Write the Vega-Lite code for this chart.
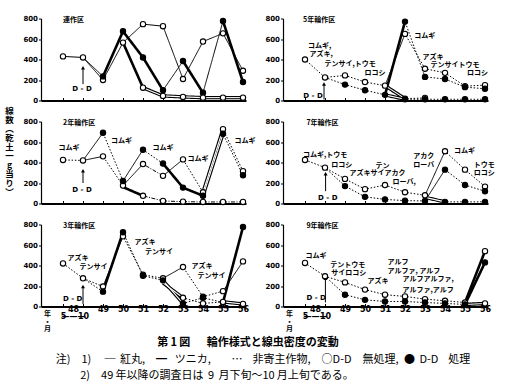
{
"$schema": "https://vega.github.io/schema/vega-lite/v6.json",
"background": "white",
"padding": {"left": 4, "top": 14.5, "right": 5, "bottom": 5},
"datasets": {
"pts": [
{"p":"A","s":"A1","f":0,"i":0,"v":430,"ls":"n"},{"p":"A","s":"A1","f":0,"i":1,"v":420,"ls":"t"},{"p":"A","s":"A1","f":0,"i":2,"v":200,"ls":"t"},{"p":"A","s":"A1","f":0,"i":3,"v":565,"ls":"t"},{"p":"A","s":"A1","f":0,"i":4,"v":745,"ls":"t"},{"p":"A","s":"A1","f":0,"i":5,"v":725,"ls":"t"},{"p":"A","s":"A1","f":0,"i":6,"v":210,"ls":"t"},{"p":"A","s":"A1","f":0,"i":7,"v":575,"ls":"t"},{"p":"A","s":"A1","f":0,"i":8,"v":655,"ls":"t"},{"p":"A","s":"A1","f":0,"i":9,"v":290,"ls":"t"},
{"p":"A","s":"A2","f":1,"i":1,"v":420,"ls":"n"},{"p":"A","s":"A2","f":1,"i":2,"v":235,"ls":"t"},{"p":"A","s":"A2","f":1,"i":3,"v":675,"ls":"b"},{"p":"A","s":"A2","f":1,"i":4,"v":420,"ls":"b"},{"p":"A","s":"A2","f":1,"i":5,"v":100,"ls":"b"},{"p":"A","s":"A2","f":1,"i":6,"v":385,"ls":"t"},{"p":"A","s":"A2","f":1,"i":7,"v":75,"ls":"b"},{"p":"A","s":"A2","f":1,"i":8,"v":775,"ls":"t"},{"p":"A","s":"A2","f":1,"i":9,"v":180,"ls":"b"},
{"p":"A","s":"A3","f":0,"i":3,"v":565,"ls":"n"},{"p":"A","s":"A3","f":0,"i":4,"v":125,"ls":"b"},{"p":"A","s":"A3","f":0,"i":5,"v":45,"ls":"w"},{"p":"A","s":"A3","f":0,"i":6,"v":35,"ls":"w"},{"p":"A","s":"A3","f":0,"i":7,"v":28,"ls":"w"},{"p":"A","s":"A3","f":0,"i":8,"v":28,"ls":"w"},{"p":"A","s":"A3","f":0,"i":9,"v":28,"ls":"w"},
{"p":"B","s":"B1","f":0,"i":0,"v":400,"ls":"n"},{"p":"B","s":"B1","f":0,"i":1,"v":225,"ls":"d"},{"p":"B","s":"B1","f":0,"i":2,"v":245,"ls":"d"},{"p":"B","s":"B1","f":0,"i":3,"v":180,"ls":"d"},{"p":"B","s":"B1","f":0,"i":4,"v":145,"ls":"d"},{"p":"B","s":"B1","f":0,"i":5,"v":650,"ls":"t"},{"p":"B","s":"B1","f":0,"i":6,"v":310,"ls":"d"},{"p":"B","s":"B1","f":0,"i":7,"v":270,"ls":"d"},{"p":"B","s":"B1","f":0,"i":8,"v":140,"ls":"d"},{"p":"B","s":"B1","f":0,"i":9,"v":150,"ls":"d"},
{"p":"B","s":"B2","f":1,"i":1,"v":225,"ls":"n"},{"p":"B","s":"B2","f":1,"i":2,"v":155,"ls":"d"},{"p":"B","s":"B2","f":1,"i":3,"v":100,"ls":"d"},{"p":"B","s":"B2","f":1,"i":4,"v":55,"ls":"d"},{"p":"B","s":"B2","f":1,"i":5,"v":770,"ls":"b"},{"p":"B","s":"B2","f":1,"i":6,"v":230,"ls":"d"},{"p":"B","s":"B2","f":1,"i":7,"v":210,"ls":"d"},{"p":"B","s":"B2","f":1,"i":8,"v":130,"ls":"d"},{"p":"B","s":"B2","f":1,"i":9,"v":115,"ls":"d"},
{"p":"B","s":"B3","f":0,"i":4,"v":145,"ls":"n"},{"p":"B","s":"B3","f":0,"i":5,"v":18,"ls":"w"},{"p":"B","s":"B3","f":0,"i":6,"v":25,"ls":"d"},
{"p":"B","s":"B4","f":1,"i":4,"v":55,"ls":"n"},{"p":"B","s":"B4","f":1,"i":5,"v":12,"ls":"w"},{"p":"B","s":"B4","f":1,"i":6,"v":12,"ls":"d"},{"p":"B","s":"B4","f":1,"i":7,"v":12,"ls":"d"},{"p":"B","s":"B4","f":1,"i":8,"v":12,"ls":"d"},{"p":"B","s":"B4","f":1,"i":9,"v":12,"ls":"d"},
{"p":"C","s":"C1","f":0,"i":0,"v":425,"ls":"n"},{"p":"C","s":"C1","f":0,"i":1,"v":420,"ls":"d"},{"p":"C","s":"C1","f":0,"i":2,"v":460,"ls":"t"},{"p":"C","s":"C1","f":0,"i":3,"v":175,"ls":"d"},{"p":"C","s":"C1","f":0,"i":4,"v":385,"ls":"t"},{"p":"C","s":"C1","f":0,"i":5,"v":270,"ls":"x"},{"p":"C","s":"C1","f":0,"i":6,"v":430,"ls":"t"},{"p":"C","s":"C1","f":0,"i":7,"v":110,"ls":"d"},{"p":"C","s":"C1","f":0,"i":8,"v":725,"ls":"w"},{"p":"C","s":"C1","f":0,"i":9,"v":315,"ls":"d"},
{"p":"C","s":"C2","f":1,"i":1,"v":420,"ls":"n"},{"p":"C","s":"C2","f":1,"i":2,"v":690,"ls":"t"},{"p":"C","s":"C2","f":1,"i":3,"v":220,"ls":"d"},{"p":"C","s":"C2","f":1,"i":4,"v":525,"ls":"t"},{"p":"C","s":"C2","f":1,"i":5,"v":390,"ls":"d"},{"p":"C","s":"C2","f":1,"i":6,"v":155,"ls":"b"},{"p":"C","s":"C2","f":1,"i":7,"v":75,"ls":"b"},{"p":"C","s":"C2","f":1,"i":8,"v":680,"ls":"w"},{"p":"C","s":"C2","f":1,"i":9,"v":275,"ls":"d"},
{"p":"C","s":"C3","f":0,"i":3,"v":160,"ls":"n"},{"p":"C","s":"C3","f":0,"i":4,"v":75,"ls":"b"},{"p":"C","s":"C3","f":0,"i":5,"v":25,"ls":"x"},{"p":"C","s":"C3","f":0,"i":6,"v":18,"ls":"x"},{"p":"C","s":"C3","f":0,"i":7,"v":15,"ls":"x"},{"p":"C","s":"C3","f":0,"i":8,"v":15,"ls":"x"},{"p":"C","s":"C3","f":0,"i":9,"v":15,"ls":"x"},
{"p":"D","s":"D1","f":0,"i":0,"v":425,"ls":"n"},{"p":"D","s":"D1","f":0,"i":1,"v":350,"ls":"d"},{"p":"D","s":"D1","f":0,"i":2,"v":240,"ls":"d"},{"p":"D","s":"D1","f":0,"i":3,"v":140,"ls":"d"},{"p":"D","s":"D1","f":0,"i":4,"v":180,"ls":"d"},{"p":"D","s":"D1","f":0,"i":5,"v":110,"ls":"d"},{"p":"D","s":"D1","f":0,"i":6,"v":80,"ls":"d"},{"p":"D","s":"D1","f":0,"i":7,"v":510,"ls":"t"},{"p":"D","s":"D1","f":0,"i":8,"v":330,"ls":"d"},{"p":"D","s":"D1","f":0,"i":9,"v":165,"ls":"d"},
{"p":"D","s":"D2","f":1,"i":1,"v":350,"ls":"n"},{"p":"D","s":"D2","f":1,"i":2,"v":170,"ls":"d"},{"p":"D","s":"D2","f":1,"i":3,"v":65,"ls":"d"},{"p":"D","s":"D2","f":1,"i":4,"v":40,"ls":"d"},{"p":"D","s":"D2","f":1,"i":5,"v":28,"ls":"d"},{"p":"D","s":"D2","f":1,"i":6,"v":25,"ls":"d"},{"p":"D","s":"D2","f":1,"i":7,"v":330,"ls":"t"},{"p":"D","s":"D2","f":1,"i":8,"v":180,"ls":"d"},{"p":"D","s":"D2","f":1,"i":9,"v":120,"ls":"d"},
{"p":"D","s":"D3","f":1,"i":6,"v":60,"ls":"n"},{"p":"D","s":"D3","f":1,"i":7,"v":16,"ls":"w"},{"p":"D","s":"D3","f":1,"i":8,"v":16,"ls":"d"},{"p":"D","s":"D3","f":1,"i":9,"v":16,"ls":"d"},
{"p":"E","s":"E1","f":0,"i":0,"v":420,"ls":"n"},{"p":"E","s":"E1","f":0,"i":1,"v":275,"ls":"d"},{"p":"E","s":"E1","f":0,"i":2,"v":195,"ls":"d"},{"p":"E","s":"E1","f":0,"i":3,"v":685,"ls":"t"},{"p":"E","s":"E1","f":0,"i":4,"v":310,"ls":"d"},{"p":"E","s":"E1","f":0,"i":5,"v":275,"ls":"d"},{"p":"E","s":"E1","f":0,"i":6,"v":385,"ls":"t"},{"p":"E","s":"E1","f":0,"i":7,"v":95,"ls":"d"},{"p":"E","s":"E1","f":0,"i":8,"v":150,"ls":"d"},{"p":"E","s":"E1","f":0,"i":9,"v":440,"ls":"t"},
{"p":"E","s":"E2","f":1,"i":1,"v":275,"ls":"n"},{"p":"E","s":"E2","f":1,"i":2,"v":145,"ls":"d"},{"p":"E","s":"E2","f":1,"i":3,"v":725,"ls":"b"},{"p":"E","s":"E2","f":1,"i":4,"v":300,"ls":"d"},{"p":"E","s":"E2","f":1,"i":5,"v":255,"ls":"d"},{"p":"E","s":"E2","f":1,"i":6,"v":30,"ls":"w"},{"p":"E","s":"E2","f":1,"i":7,"v":85,"ls":"d"},{"p":"E","s":"E2","f":1,"i":8,"v":40,"ls":"d"},{"p":"E","s":"E2","f":1,"i":9,"v":775,"ls":"b"},
{"p":"E","s":"E3","f":0,"i":5,"v":230,"ls":"n"},{"p":"E","s":"E3","f":0,"i":6,"v":85,"ls":"w"},{"p":"E","s":"E3","f":0,"i":7,"v":30,"ls":"d"},{"p":"E","s":"E3","f":0,"i":8,"v":45,"ls":"d"},{"p":"E","s":"E3","f":0,"i":9,"v":25,"ls":"w"},
{"p":"F","s":"F1","f":0,"i":0,"v":425,"ls":"n"},{"p":"F","s":"F1","f":0,"i":1,"v":295,"ls":"d"},{"p":"F","s":"F1","f":0,"i":2,"v":235,"ls":"d"},{"p":"F","s":"F1","f":0,"i":3,"v":165,"ls":"d"},{"p":"F","s":"F1","f":0,"i":4,"v":115,"ls":"d"},{"p":"F","s":"F1","f":0,"i":5,"v":98,"ls":"d"},{"p":"F","s":"F1","f":0,"i":6,"v":72,"ls":"d"},{"p":"F","s":"F1","f":0,"i":7,"v":56,"ls":"d"},{"p":"F","s":"F1","f":0,"i":8,"v":39,"ls":"d"},{"p":"F","s":"F1","f":0,"i":9,"v":540,"ls":"b"},
{"p":"F","s":"F2","f":1,"i":1,"v":295,"ls":"n"},{"p":"F","s":"F2","f":1,"i":2,"v":115,"ls":"d"},{"p":"F","s":"F2","f":1,"i":3,"v":65,"ls":"d"},{"p":"F","s":"F2","f":1,"i":4,"v":49,"ls":"d"},{"p":"F","s":"F2","f":1,"i":5,"v":49,"ls":"d"},{"p":"F","s":"F2","f":1,"i":6,"v":39,"ls":"d"},{"p":"F","s":"F2","f":1,"i":7,"v":30,"ls":"d"},{"p":"F","s":"F2","f":1,"i":8,"v":20,"ls":"d"},{"p":"F","s":"F2","f":1,"i":9,"v":430,"ls":"b"},
{"p":"F","s":"F3","f":0,"i":8,"v":20,"ls":"n"},{"p":"F","s":"F3","f":0,"i":9,"v":30,"ls":"w"}
],
"arr": [
{"p":"A","i":1,"v":320,"lo":160},{"p":"B","i":0.95,"v":160,"lo":10},{"p":"C","i":1,"v":320,"lo":200},{"p":"D","i":1.03,"v":290,"lo":120},{"p":"E","i":1,"v":195,"lo":25},{"p":"F","i":1.02,"v":275,"lo":40}
],
"ann": [
{"p":"A","k":"ttl","i":0,"v":790,"t":"連作区"},{"p":"A","k":"dd","i":0.95,"v":110,"t":"D - D"},
{"p":"B","k":"ttl","i":-0.1,"v":790,"t":"5年輪作区"},{"p":"B","k":"lab","i":0.15,"v":530,"t":"コムギ,"},{"p":"B","k":"lab","i":0.23,"v":450,"t":"アズキ,"},{"p":"B","k":"lab","i":0.98,"v":355,"t":"テンサイ,トウモ"},{"p":"B","k":"lab","i":2.97,"v":267,"t":"ロコシ"},{"p":"B","k":"lab","i":5.46,"v":625,"t":"コムギ"},{"p":"B","k":"lab","i":5.87,"v":425,"t":"アズキ"},{"p":"B","k":"lab","i":6.28,"v":346,"t":"テンサイトウモ"},{"p":"B","k":"lab","i":8.1,"v":267,"t":"ロコシ"},{"p":"B","k":"dd","i":0.4,"v":45,"t":"D - D"},
{"p":"C","k":"ttl","i":0,"v":790,"t":"2年輪作区"},{"p":"C","k":"lab","i":-0.23,"v":537,"t":"コムギ"},{"p":"C","k":"lab","i":2.4,"v":605,"t":"コムギ"},{"p":"C","k":"lab","i":4.48,"v":537,"t":"コムギ"},{"p":"C","k":"lab","i":6.23,"v":430,"t":"コムギ"},{"p":"C","k":"lab","i":8.57,"v":605,"t":"コムギ"},{"p":"C","k":"dd","i":0.95,"v":127,"t":"D - D"},
{"p":"D","k":"ttl","i":0.07,"v":790,"t":"7年輪作区"},{"p":"D","k":"lab","i":-0.1,"v":478,"t":"コムギ,トウモ"},{"p":"D","k":"lab","i":1.31,"v":379,"t":"ロコシ"},{"p":"D","k":"lab","i":2.22,"v":296,"t":"アズキサイアカク"},{"p":"D","k":"lab","i":3.52,"v":362,"t":"テン"},{"p":"D","k":"lab","i":4.38,"v":208,"t":"ローバ,"},{"p":"D","k":"lab","i":5.41,"v":461,"t":"アカク"},{"p":"D","k":"lab","i":5.41,"v":379,"t":"ローバ"},{"p":"D","k":"lab","i":7.45,"v":510,"t":"コムギ"},{"p":"D","k":"lab","i":8.44,"v":379,"t":"トウモ"},{"p":"D","k":"lab","i":8.44,"v":296,"t":"ロコシ"},{"p":"D","k":"dd","i":1.14,"v":50,"t":"D - D"},
{"p":"E","k":"ttl","i":0,"v":790,"t":"3年輪作区"},{"p":"E","k":"lab","i":0.23,"v":470,"t":"アズキ"},{"p":"E","k":"lab","i":0.82,"v":382,"t":"テンサイ"},{"p":"E","k":"lab","i":3.57,"v":627,"t":"アズキ"},{"p":"E","k":"lab","i":4.1,"v":529,"t":"テンサイ"},{"p":"E","k":"lab","i":6.43,"v":398,"t":"アズキ"},{"p":"E","k":"lab","i":6.73,"v":300,"t":"テンサイ"},{"p":"E","k":"dd","i":0.48,"v":72,"t":"D - D"},
{"p":"F","k":"ttl","i":0.07,"v":790,"t":"9年輪作区"},{"p":"F","k":"lab","i":0.03,"v":490,"t":"コムギ"},{"p":"F","k":"lab","i":1.26,"v":408,"t":"テントウモ"},{"p":"F","k":"lab","i":1.31,"v":327,"t":"サイロコシ"},{"p":"F","k":"lab","i":3.13,"v":245,"t":"アズキ"},{"p":"F","k":"lab","i":4.13,"v":431,"t":"アルフ"},{"p":"F","k":"lab","i":4.13,"v":349,"t":"アルファ, アルフ"},{"p":"F","k":"lab","i":4.88,"v":268,"t":"アルフアルファ,"},{"p":"F","k":"lab","i":4.88,"v":163,"t":"アルファ,アルフ"},{"p":"F","k":"dd","i":0.56,"v":82,"t":"D - D"}
]
},
"title": {
"text": "⠀\u3000\u3000\u3000\u3000\u3000\u3000\u3000\u3000\u2002第\u20091\u2009図\u3000\u2002輪作様式と線虫密度の変動",
"subtitle": ["注)\u30001)\u3000\u2009─\u2009\u2009紅丸,\u3000━\u2002\u2009ツニカ,\u3000\u2002\u2009\u2009…\u2002\u2009\u2009非寄主作物,\u3000○D-D\u3000無処理,\u2002●\u2009\u2009D-D\u2002\u2009\u2009処理", "⠀\u3000\u20022)\u300049\u2009年以降の調査日は\u2009\u20099\u2009\u2009月下旬〜10\u2009月上旬である。"],
"orient": "bottom", "anchor": "start", "dx": 51, "offset": 5,
"font": "Noto Sans CJK JP", "fontSize": 11, "fontWeight": "bold", "color": "black",
"subtitleFont": "Noto Sans CJK JP", "subtitleFontSize": 11, "subtitleColor": "black", "subtitlePadding": 6, "subtitleLineHeight": 16
},
"columns": 2,
"spacing": {"row": 21, "column": 37},
"bounds": "flush",
"concat": [
{"width": 205, "height": 82,
"encoding": {"x": {"field": "i", "type": "quantitative", "scale": {"domain": [-1.1, 9.15], "nice": false, "zero": false}, "axis": {"values": [0,1,2,3,4,5,6,7,8,9], "labels": false, "title": null, "tickSize": -3, "domainWidth": 1.8}},
"y": {"field": "v", "type": "quantitative", "scale": {"domain": [0, 800], "nice": false}, "axis": {"values": [0,200,400,600,800], "title": null, "tickSize": 2.5, "labelPadding": 1, "domainWidth": 1.2}}},
"layer": [
{"data":{"name":"pts"},"transform":[{"filter":"datum.p=='A'"},{"window":[{"op":"lag","field":"i","as":"pi"},{"op":"lag","field":"v","as":"pv"}],"groupby":["s"],"sort":[{"field":"i","order":"ascending"}]},{"filter":"datum.ls!='n'"}],"mark":{"type":"rule","color":"black"},"encoding":{"x2":{"field":"pi"},"y2":{"field":"pv"},"strokeWidth":{"condition":[{"test":"datum.ls=='b'","value":2.6},{"test":"datum.ls=='w'","value":3.4}],"value":1},"strokeDash":{"condition":[{"test":"datum.ls=='d'","value":[1.5,1.8]},{"test":"datum.ls=='x'","value":[4,1.5,1,1.5]}],"value":[1,0]}}},
{"data":{"name":"pts"},"transform":[{"filter":"datum.p=='A'"},{"window":[{"op":"lag","field":"i","as":"pi"},{"op":"lag","field":"v","as":"pv"}],"groupby":["s"],"sort":[{"field":"i","order":"ascending"}]},{"filter":"datum.ls=='w'"}],"mark":{"type":"rule","color":"white","strokeWidth":1.1},"encoding":{"x2":{"field":"pi"},"y2":{"field":"pv"}}},
{"data":{"name":"arr"},"transform":[{"filter":"datum.p=='A'"}],"mark":{"type":"rule","color":"black","strokeWidth":1},"encoding":{"y2":{"field":"lo"}}},
{"data":{"name":"arr"},"transform":[{"filter":"datum.p=='A'"}],"mark":{"type":"point","shape":"triangle-up","filled":true,"color":"black","opacity":1,"size":16}},
{"data":{"name":"pts"},"transform":[{"filter":"datum.p=='A' && (datum.ls!='n' || datum.i==0)"}],"mark":{"type":"point","filled":true,"stroke":"black","strokeWidth":1.1,"size":28,"opacity":1},"encoding":{"fill":{"field":"f","type":"nominal","scale":{"domain":[0,1],"range":["white","black"]},"legend":null}}},
{"data":{"name":"ann"},"transform":[{"filter":"datum.p=='A' && datum.k!='dd'"}],"mark":{"type":"text","align":"left","baseline":"middle","font":"Noto Sans CJK JP","fontSize":7,"fontWeight":"bold","color":"black"},"encoding":{"text":{"field":"t"}}},
{"data":{"name":"ann"},"transform":[{"filter":"datum.p=='A' && datum.k=='dd'"}],"mark":{"type":"text","align":"center","baseline":"middle","font":"DejaVu Sans","fontSize":7,"fontWeight":"bold","color":"black"},"encoding":{"text":{"field":"t"}}}
]},
{"width": 205, "height": 82,
"encoding": {"x": {"field": "i", "type": "quantitative", "scale": {"domain": [-1.1, 9.15], "nice": false, "zero": false}, "axis": {"values": [0,1,2,3,4,5,6,7,8,9], "labels": false, "title": null, "tickSize": -3, "domainWidth": 1.8}},
"y": {"field": "v", "type": "quantitative", "scale": {"domain": [0, 800], "nice": false}, "axis": {"values": [0,200,400,600,800], "title": null, "tickSize": 2.5, "labelPadding": 1, "domainWidth": 1.2}}},
"layer": [
{"data":{"name":"pts"},"transform":[{"filter":"datum.p=='B'"},{"window":[{"op":"lag","field":"i","as":"pi"},{"op":"lag","field":"v","as":"pv"}],"groupby":["s"],"sort":[{"field":"i","order":"ascending"}]},{"filter":"datum.ls!='n'"}],"mark":{"type":"rule","color":"black"},"encoding":{"x2":{"field":"pi"},"y2":{"field":"pv"},"strokeWidth":{"condition":[{"test":"datum.ls=='b'","value":2.6},{"test":"datum.ls=='w'","value":3.4}],"value":1},"strokeDash":{"condition":[{"test":"datum.ls=='d'","value":[1.5,1.8]},{"test":"datum.ls=='x'","value":[4,1.5,1,1.5]}],"value":[1,0]}}},
{"data":{"name":"pts"},"transform":[{"filter":"datum.p=='B'"},{"window":[{"op":"lag","field":"i","as":"pi"},{"op":"lag","field":"v","as":"pv"}],"groupby":["s"],"sort":[{"field":"i","order":"ascending"}]},{"filter":"datum.ls=='w'"}],"mark":{"type":"rule","color":"white","strokeWidth":1.1},"encoding":{"x2":{"field":"pi"},"y2":{"field":"pv"}}},
{"data":{"name":"arr"},"transform":[{"filter":"datum.p=='B'"}],"mark":{"type":"rule","color":"black","strokeWidth":1},"encoding":{"y2":{"field":"lo"}}},
{"data":{"name":"arr"},"transform":[{"filter":"datum.p=='B'"}],"mark":{"type":"point","shape":"triangle-up","filled":true,"color":"black","opacity":1,"size":16}},
{"data":{"name":"pts"},"transform":[{"filter":"datum.p=='B' && (datum.ls!='n' || datum.i==0)"}],"mark":{"type":"point","filled":true,"stroke":"black","strokeWidth":1.1,"size":28,"opacity":1},"encoding":{"fill":{"field":"f","type":"nominal","scale":{"domain":[0,1],"range":["white","black"]},"legend":null}}},
{"data":{"name":"ann"},"transform":[{"filter":"datum.p=='B' && datum.k!='dd'"}],"mark":{"type":"text","align":"left","baseline":"middle","font":"Noto Sans CJK JP","fontSize":7,"fontWeight":"bold","color":"black"},"encoding":{"text":{"field":"t"}}},
{"data":{"name":"ann"},"transform":[{"filter":"datum.p=='B' && datum.k=='dd'"}],"mark":{"type":"text","align":"center","baseline":"middle","font":"DejaVu Sans","fontSize":7,"fontWeight":"bold","color":"black"},"encoding":{"text":{"field":"t"}}}
]},
{"width": 205, "height": 82,
"encoding": {"x": {"field": "i", "type": "quantitative", "scale": {"domain": [-1.1, 9.15], "nice": false, "zero": false}, "axis": {"values": [0,1,2,3,4,5,6,7,8,9], "labels": false, "title": null, "tickSize": -3, "domainWidth": 1.8}},
"y": {"field": "v", "type": "quantitative", "scale": {"domain": [0, 800], "nice": false}, "axis": {"values": [0,200,400,600,800], "tickSize": 2.5, "labelPadding": 1, "domainWidth": 1.2, "title": ["線", " ", "数", "︵", "乾", "土", "一", "g", "当", "り", "︶"], "titleAngle": 0, "titleX": -32, "titleY": -15, "titleAlign": "center", "titleBaseline": "top", "titleFontSize": 8.5, "titleLineHeight": 9}}},
"layer": [
{"data":{"name":"pts"},"transform":[{"filter":"datum.p=='C'"},{"window":[{"op":"lag","field":"i","as":"pi"},{"op":"lag","field":"v","as":"pv"}],"groupby":["s"],"sort":[{"field":"i","order":"ascending"}]},{"filter":"datum.ls!='n'"}],"mark":{"type":"rule","color":"black"},"encoding":{"x2":{"field":"pi"},"y2":{"field":"pv"},"strokeWidth":{"condition":[{"test":"datum.ls=='b'","value":2.6},{"test":"datum.ls=='w'","value":3.4}],"value":1},"strokeDash":{"condition":[{"test":"datum.ls=='d'","value":[1.5,1.8]},{"test":"datum.ls=='x'","value":[4,1.5,1,1.5]}],"value":[1,0]}}},
{"data":{"name":"pts"},"transform":[{"filter":"datum.p=='C'"},{"window":[{"op":"lag","field":"i","as":"pi"},{"op":"lag","field":"v","as":"pv"}],"groupby":["s"],"sort":[{"field":"i","order":"ascending"}]},{"filter":"datum.ls=='w'"}],"mark":{"type":"rule","color":"white","strokeWidth":1.1},"encoding":{"x2":{"field":"pi"},"y2":{"field":"pv"}}},
{"data":{"name":"arr"},"transform":[{"filter":"datum.p=='C'"}],"mark":{"type":"rule","color":"black","strokeWidth":1},"encoding":{"y2":{"field":"lo"}}},
{"data":{"name":"arr"},"transform":[{"filter":"datum.p=='C'"}],"mark":{"type":"point","shape":"triangle-up","filled":true,"color":"black","opacity":1,"size":16}},
{"data":{"name":"pts"},"transform":[{"filter":"datum.p=='C' && (datum.ls!='n' || datum.i==0)"}],"mark":{"type":"point","filled":true,"stroke":"black","strokeWidth":1.1,"size":28,"opacity":1},"encoding":{"fill":{"field":"f","type":"nominal","scale":{"domain":[0,1],"range":["white","black"]},"legend":null}}},
{"data":{"name":"ann"},"transform":[{"filter":"datum.p=='C' && datum.k!='dd'"}],"mark":{"type":"text","align":"left","baseline":"middle","font":"Noto Sans CJK JP","fontSize":7,"fontWeight":"bold","color":"black"},"encoding":{"text":{"field":"t"}}},
{"data":{"name":"ann"},"transform":[{"filter":"datum.p=='C' && datum.k=='dd'"}],"mark":{"type":"text","align":"center","baseline":"middle","font":"DejaVu Sans","fontSize":7,"fontWeight":"bold","color":"black"},"encoding":{"text":{"field":"t"}}}
]},
{"width": 205, "height": 82,
"encoding": {"x": {"field": "i", "type": "quantitative", "scale": {"domain": [-1.1, 9.15], "nice": false, "zero": false}, "axis": {"values": [0,1,2,3,4,5,6,7,8,9], "labels": false, "title": null, "tickSize": -3, "domainWidth": 1.8}},
"y": {"field": "v", "type": "quantitative", "scale": {"domain": [0, 800], "nice": false}, "axis": {"values": [0,200,400,600,800], "title": null, "tickSize": 2.5, "labelPadding": 1, "domainWidth": 1.2}}},
"layer": [
{"data":{"name":"pts"},"transform":[{"filter":"datum.p=='D'"},{"window":[{"op":"lag","field":"i","as":"pi"},{"op":"lag","field":"v","as":"pv"}],"groupby":["s"],"sort":[{"field":"i","order":"ascending"}]},{"filter":"datum.ls!='n'"}],"mark":{"type":"rule","color":"black"},"encoding":{"x2":{"field":"pi"},"y2":{"field":"pv"},"strokeWidth":{"condition":[{"test":"datum.ls=='b'","value":2.6},{"test":"datum.ls=='w'","value":3.4}],"value":1},"strokeDash":{"condition":[{"test":"datum.ls=='d'","value":[1.5,1.8]},{"test":"datum.ls=='x'","value":[4,1.5,1,1.5]}],"value":[1,0]}}},
{"data":{"name":"pts"},"transform":[{"filter":"datum.p=='D'"},{"window":[{"op":"lag","field":"i","as":"pi"},{"op":"lag","field":"v","as":"pv"}],"groupby":["s"],"sort":[{"field":"i","order":"ascending"}]},{"filter":"datum.ls=='w'"}],"mark":{"type":"rule","color":"white","strokeWidth":1.1},"encoding":{"x2":{"field":"pi"},"y2":{"field":"pv"}}},
{"data":{"name":"arr"},"transform":[{"filter":"datum.p=='D'"}],"mark":{"type":"rule","color":"black","strokeWidth":1},"encoding":{"y2":{"field":"lo"}}},
{"data":{"name":"arr"},"transform":[{"filter":"datum.p=='D'"}],"mark":{"type":"point","shape":"triangle-up","filled":true,"color":"black","opacity":1,"size":16}},
{"data":{"name":"pts"},"transform":[{"filter":"datum.p=='D' && (datum.ls!='n' || datum.i==0)"}],"mark":{"type":"point","filled":true,"stroke":"black","strokeWidth":1.1,"size":28,"opacity":1},"encoding":{"fill":{"field":"f","type":"nominal","scale":{"domain":[0,1],"range":["white","black"]},"legend":null}}},
{"data":{"name":"ann"},"transform":[{"filter":"datum.p=='D' && datum.k!='dd'"}],"mark":{"type":"text","align":"left","baseline":"middle","font":"Noto Sans CJK JP","fontSize":7,"fontWeight":"bold","color":"black"},"encoding":{"text":{"field":"t"}}},
{"data":{"name":"ann"},"transform":[{"filter":"datum.p=='D' && datum.k=='dd'"}],"mark":{"type":"text","align":"center","baseline":"middle","font":"DejaVu Sans","fontSize":7,"fontWeight":"bold","color":"black"},"encoding":{"text":{"field":"t"}}}
]},
{"width": 205, "height": 82,
"encoding": {"x": {"field": "i", "type": "quantitative", "scale": {"domain": [-1.1, 9.15], "nice": false, "zero": false}, "axis": {"values": [0,0.5,1,2,3,4,5,6,7,8,9], "labelExpr": "datum.value == 0.5 ? ['48', '———'] : datum.value == 0 ? [' ', ' ', '5'] : datum.value == 1 ? [' ', ' ', '10'] : '' + (datum.value + 47)", "tickOpacity": {"condition": {"test": "datum.value == 0.5", "value": 0}, "value": 1}, "labelFontSize": 8, "labelLineHeight": 6.5, "labelPadding": 2, "labelOverlap": false, "labelBound": false, "labelFlush": false, "title": ["年", "・", "月"], "titleX": 6, "titleY": 3, "titleAlign": "center", "titleBaseline": "top", "titleLineHeight": 7.5, "titleFontSize": 7, "tickSize": -3, "domainWidth": 1.8}},
"y": {"field": "v", "type": "quantitative", "scale": {"domain": [0, 800], "nice": false}, "axis": {"values": [0,200,400,600,800], "title": null, "tickSize": 2.5, "labelPadding": 1, "domainWidth": 1.2}}},
"layer": [
{"data":{"name":"pts"},"transform":[{"filter":"datum.p=='E'"},{"window":[{"op":"lag","field":"i","as":"pi"},{"op":"lag","field":"v","as":"pv"}],"groupby":["s"],"sort":[{"field":"i","order":"ascending"}]},{"filter":"datum.ls!='n'"}],"mark":{"type":"rule","color":"black"},"encoding":{"x2":{"field":"pi"},"y2":{"field":"pv"},"strokeWidth":{"condition":[{"test":"datum.ls=='b'","value":2.6},{"test":"datum.ls=='w'","value":3.4}],"value":1},"strokeDash":{"condition":[{"test":"datum.ls=='d'","value":[1.5,1.8]},{"test":"datum.ls=='x'","value":[4,1.5,1,1.5]}],"value":[1,0]}}},
{"data":{"name":"pts"},"transform":[{"filter":"datum.p=='E'"},{"window":[{"op":"lag","field":"i","as":"pi"},{"op":"lag","field":"v","as":"pv"}],"groupby":["s"],"sort":[{"field":"i","order":"ascending"}]},{"filter":"datum.ls=='w'"}],"mark":{"type":"rule","color":"white","strokeWidth":1.1},"encoding":{"x2":{"field":"pi"},"y2":{"field":"pv"}}},
{"data":{"name":"arr"},"transform":[{"filter":"datum.p=='E'"}],"mark":{"type":"rule","color":"black","strokeWidth":1},"encoding":{"y2":{"field":"lo"}}},
{"data":{"name":"arr"},"transform":[{"filter":"datum.p=='E'"}],"mark":{"type":"point","shape":"triangle-up","filled":true,"color":"black","opacity":1,"size":16}},
{"data":{"name":"pts"},"transform":[{"filter":"datum.p=='E' && (datum.ls!='n' || datum.i==0)"}],"mark":{"type":"point","filled":true,"stroke":"black","strokeWidth":1.1,"size":28,"opacity":1},"encoding":{"fill":{"field":"f","type":"nominal","scale":{"domain":[0,1],"range":["white","black"]},"legend":null}}},
{"data":{"name":"ann"},"transform":[{"filter":"datum.p=='E' && datum.k!='dd'"}],"mark":{"type":"text","align":"left","baseline":"middle","font":"Noto Sans CJK JP","fontSize":7,"fontWeight":"bold","color":"black"},"encoding":{"text":{"field":"t"}}},
{"data":{"name":"ann"},"transform":[{"filter":"datum.p=='E' && datum.k=='dd'"}],"mark":{"type":"text","align":"center","baseline":"middle","font":"DejaVu Sans","fontSize":7,"fontWeight":"bold","color":"black"},"encoding":{"text":{"field":"t"}}}
]},
{"width": 205, "height": 82,
"encoding": {"x": {"field": "i", "type": "quantitative", "scale": {"domain": [-1.1, 9.15], "nice": false, "zero": false}, "axis": {"values": [0,0.5,1,2,3,4,5,6,7,8,9], "labelExpr": "datum.value == 0.5 ? ['48', '———'] : datum.value == 0 ? [' ', ' ', '5'] : datum.value == 1 ? [' ', ' ', '10'] : '' + (datum.value + 47)", "tickOpacity": {"condition": {"test": "datum.value == 0.5", "value": 0}, "value": 1}, "labelFontSize": 8, "labelLineHeight": 6.5, "labelPadding": 2, "labelOverlap": false, "labelBound": false, "labelFlush": false, "title": ["年", "・", "月"], "titleX": 6, "titleY": 3, "titleAlign": "center", "titleBaseline": "top", "titleLineHeight": 7.5, "titleFontSize": 7, "tickSize": -3, "domainWidth": 1.8}},
"y": {"field": "v", "type": "quantitative", "scale": {"domain": [0, 800], "nice": false}, "axis": {"values": [0,200,400,600,800], "title": null, "tickSize": 2.5, "labelPadding": 1, "domainWidth": 1.2}}},
"layer": [
{"data":{"name":"pts"},"transform":[{"filter":"datum.p=='F'"},{"window":[{"op":"lag","field":"i","as":"pi"},{"op":"lag","field":"v","as":"pv"}],"groupby":["s"],"sort":[{"field":"i","order":"ascending"}]},{"filter":"datum.ls!='n'"}],"mark":{"type":"rule","color":"black"},"encoding":{"x2":{"field":"pi"},"y2":{"field":"pv"},"strokeWidth":{"condition":[{"test":"datum.ls=='b'","value":2.6},{"test":"datum.ls=='w'","value":3.4}],"value":1},"strokeDash":{"condition":[{"test":"datum.ls=='d'","value":[1.5,1.8]},{"test":"datum.ls=='x'","value":[4,1.5,1,1.5]}],"value":[1,0]}}},
{"data":{"name":"pts"},"transform":[{"filter":"datum.p=='F'"},{"window":[{"op":"lag","field":"i","as":"pi"},{"op":"lag","field":"v","as":"pv"}],"groupby":["s"],"sort":[{"field":"i","order":"ascending"}]},{"filter":"datum.ls=='w'"}],"mark":{"type":"rule","color":"white","strokeWidth":1.1},"encoding":{"x2":{"field":"pi"},"y2":{"field":"pv"}}},
{"data":{"name":"arr"},"transform":[{"filter":"datum.p=='F'"}],"mark":{"type":"rule","color":"black","strokeWidth":1},"encoding":{"y2":{"field":"lo"}}},
{"data":{"name":"arr"},"transform":[{"filter":"datum.p=='F'"}],"mark":{"type":"point","shape":"triangle-up","filled":true,"color":"black","opacity":1,"size":16}},
{"data":{"name":"pts"},"transform":[{"filter":"datum.p=='F' && (datum.ls!='n' || datum.i==0)"}],"mark":{"type":"point","filled":true,"stroke":"black","strokeWidth":1.1,"size":28,"opacity":1},"encoding":{"fill":{"field":"f","type":"nominal","scale":{"domain":[0,1],"range":["white","black"]},"legend":null}}},
{"data":{"name":"ann"},"transform":[{"filter":"datum.p=='F' && datum.k!='dd'"}],"mark":{"type":"text","align":"left","baseline":"middle","font":"Noto Sans CJK JP","fontSize":7,"fontWeight":"bold","color":"black"},"encoding":{"text":{"field":"t"}}},
{"data":{"name":"ann"},"transform":[{"filter":"datum.p=='F' && datum.k=='dd'"}],"mark":{"type":"text","align":"center","baseline":"middle","font":"DejaVu Sans","fontSize":7,"fontWeight":"bold","color":"black"},"encoding":{"text":{"field":"t"}}}
]}
],
"config": {
"view": {"stroke": null},
"axis": {"domainColor": "black", "tickColor": "black", "labelColor": "black", "titleColor": "black", "labelFont": "DejaVu Sans", "labelFontWeight": "bold", "labelFontSize": 7, "grid": false, "titleFont": "Noto Sans CJK JP", "titleFontWeight": "bold"}
}
}
